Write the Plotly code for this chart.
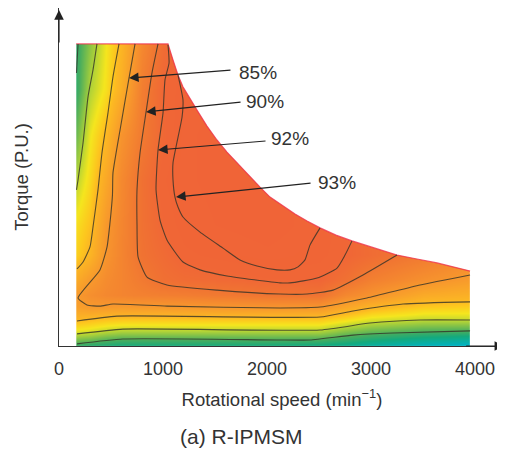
import plotly.graph_objects as go

# Efficiency map grid
speed = [165, 300, 450, 600, 800, 1000, 1200, 1500, 2000, 2500, 2750, 3000, 3500, 3950]
torque = [0, .02, .05, .09, .13, .17, .22, .30, .40, .55, .70, .85, 1.0]
eff_t000 = [69.0, 68.0, 67.5, 67.0, 67.0, 67.0, 67.0, 67.0, 67.0, 66.5, 65.5, 64.0, 62.0, 61.0]
eff_t002 = [72.0, 71.5, 70.5, 70.0, 70.0, 70.0, 70.0, 70.0, 70.0, 69.8, 68.8, 67.5, 65.5, 64.5]
eff_t005 = [76.5, 76.0, 75.0, 74.5, 74.5, 74.5, 74.5, 74.5, 74.5, 74.5, 72.7, 71.5, 70.3, 70.0]
eff_t009 = [80.5, 80.0, 79.5, 79.3, 79.3, 79.3, 79.3, 79.3, 79.2, 79.2, 77.8, 76.3, 75.3, 75.4]
eff_t013 = [83.5, 84.5, 84.5, 84.3, 84.5, 84.5, 84.6, 84.8, 85.2, 85.0, 82.7, 80.7, 78.9, 78.6]
eff_t017 = [84.5, 86.0, 87.0, 87.5, 88.0, 88.3, 88.5, 89.0, 89.7, 90.0, 87.0, 85.4, 82.1, 81.3]
eff_t022 = [82.0, 84.5, 86.5, 87.5, 89.0, 90.5, 91.0, 91.3, 91.8, 92.0, 90.3, 88.1, 85.8, 84.1]
eff_t030 = [78.5, 80.7, 85.3, 87.5, 90.1, 91.2, 92.3, 92.7, 93.3, 92.7, 92.0, 91.0, 89.0, 87.0]
eff_t040 = [77.5, 79.5, 84.7, 87.3, 90.3, 91.9, 92.9, 93.5, 94.0, 93.0, 92.0, 91.0, 89.0, 87.0]
eff_t055 = [74.8, 78.0, 82.5, 86.8, 90.4, 92.4, 93.3, 93.8, 94.0, 93.0, 92.0, 91.0, 89.0, 87.0]
eff_t070 = [71.5, 76.8, 80.3, 85.3, 89.0, 91.7, 93.3, 93.8, 93.5, 92.0, 91.0, 90.0, 88.0, 87.0]
eff_t085 = [69.0, 74.5, 77.5, 81.5, 88.5, 91.8, 93.0, 93.5, 93.5, 92.0, 91.0, 90.0, 88.0, 87.0]
eff_t100 = [69.0, 73.0, 77.0, 80.5, 87.0, 91.0, 93.0, 93.5, 93.5, 92.0, 91.0, 90.0, 88.0, 87.0]
eff = [eff_t000, eff_t002, eff_t005, eff_t009, eff_t013, eff_t017, eff_t022,
       eff_t030, eff_t040, eff_t055, eff_t070, eff_t085, eff_t100]

# Maximum torque envelope
env_speed = [165, 1048, 1096, 1144, 1192, 1260, 1327, 1423, 1519, 1615, 1711, 1837, 1933, 2029, 2154, 2269,
             2385, 2510, 2663, 2817, 3038, 3250, 3442, 3635, 3788, 3952]
env_torque = [1.0, 1.0, .947, .897, .858, .818, .781, .728, .682, .642, .606, .560, .526, .493, .464, .437,
              .414, .391, .367, .348, .324, .301, .288, .275, .262, .248]

# Iso-efficiency lines
iso_lines = [
    ([183, 168], [1.0, .904]),
    ([173, 615, 2096, 2413, 2827, 3211, 3952], [.007, .023, .020, .020, .036, .043, .050]),
    ([365, 327, 279, 231, 183, 168], [1.0, .914, .825, .672, .550, .517]),
    ([173, 615, 2510, 2990, 3471, 3952], [.040, .056, .053, .076, .086, .086]),
    ([577, 519, 471, 413, 375, 327, 298, 231, 173], [1.0, .891, .772, .639, .517, .394, .328, .278, .255]),
    ([173, 558, 2510, 2827, 3308, 3952], [.083, .099, .096, .116, .139, .146]),
    ([731, 673, 587, 519, 514, 490, 462, 394, 183, 269, 394, 519, 1038, 2125, 2510, 2961, 3471, 3952],
     [1.0, .887, .715, .573, .500, .407, .328, .252, .159, .136, .132, .139, .132, .126, .129, .159, .202, .235]),
    ([952, 894, 837, 779, 750, 750, 760, 846, 1038, 1519, 2125, 2385, 2635, 2923, 3250],
     [1.0, .904, .775, .639, .517, .401, .295, .228, .202, .185, .172, .172, .185, .235, .301]),
    ([1048, 1058, 1019, 1000, 952, 933, 971, 1038, 1192, 1356, 1615, 2125, 2221, 2481, 2673, 2750, 2817],
     [.997, .937, .881, .771, .649, .517, .417, .351, .278, .252, .232, .209, .209, .225, .258, .301, .348]),
    ([1144, 1192, 1183, 1096, 1096, 1115, 1144, 1192, 1356, 1577, 1740, 1904, 2096, 2221, 2298, 2365, 2413, 2510],
     [.897, .815, .758, .606, .550, .493, .460, .427, .377, .324, .285, .265, .252, .252, .262, .285, .334, .391]),
]

# Callouts: label, text position, arrow tail, arrow tip
callouts = [
    ("85%", (1913, .907), (1663, .914), (673, .887)),
    ("90%", (1981, .808), (1760, .808), (837, .775)),
    ("92%", (2221, .687), (2000, .679), (952, .649)),
    ("93%", (2673, .540), (2433, .540), (1125, .493)),
]
x_ticks = [0, 1000, 2000, 3000, 4000]

ZMIN, ZMAX = 60, 94
stops = [(60, "rgb(0,178,205)"), (62, "rgb(0,178,192)"), (67, "rgb(20,170,125)"), (70, "rgb(70,172,95)"),
         (75, "rgb(190,215,50)"), (77, "rgb(245,230,30)"), (79, "rgb(253,200,30)"), (80, "rgb(252,185,35)"),
         (85, "rgb(247,150,45)"), (90, "rgb(240,115,50)"), (92, "rgb(240,102,54)"), (94, "rgb(240,100,55)")]
colorscale = [[(v - ZMIN) / (ZMAX - ZMIN), c] for v, c in stops]

fig = go.Figure()
fig.add_trace(go.Contour(x=speed, y=torque, z=eff, zmin=ZMIN, zmax=ZMAX, colorscale=colorscale,
                         contours=dict(coloring="heatmap", showlines=False), line_width=0,
                         showscale=False, hoverinfo="skip"))
# White outside the envelope
fig.add_trace(go.Scatter(x=env_speed[1:] + [3960, 3960, 1048], y=env_torque[1:] + [.248, 1.02, 1.02], mode="lines",
                         fill="toself", fillcolor="white", line=dict(width=0), hoverinfo="skip", showlegend=False))
fig.add_trace(go.Scatter(x=env_speed, y=env_torque, mode="lines",
                         line=dict(color="rgba(238,50,75,0.8)", width=1.2), hoverinfo="skip", showlegend=False))
for xs, ys in iso_lines:
    fig.add_trace(go.Scatter(x=xs, y=ys, mode="lines",
                             line=dict(color="rgba(50,50,40,0.8)", width=1.1, shape="spline", smoothing=0.5),
                             hoverinfo="skip", showlegend=False))

ARROW = dict(text="", showarrow=True, arrowhead=2, arrowsize=1.6, arrowwidth=1.2, arrowcolor="#222")
ann = []
for label, tpos, tail, tip in callouts:
    ann.append(dict(x=tpos[0], y=tpos[1], text=label, showarrow=False, xref="x", yref="y",
                    font=dict(size=19, color="#333")))
    ann.append(dict(x=tip[0], y=tip[1], ax=tail[0], ay=tail[1], xref="x", yref="y", axref="x", ayref="y", **ARROW))
# Axis arrows
ann.append(dict(x=4280, y=0, ax=3900, ay=0, xref="x", yref="y", axref="x", ayref="y", **ARROW))
ann.append(dict(x=0, y=1.112, ax=0, ay=1.0, xref="x", yref="y", axref="x", ayref="y", **ARROW))
ann.append(dict(x=(241 - 59) / 446, y=(346 - 436) / 338, text="(a) R-IPMSM", showarrow=False, yanchor="middle",
                xref="paper", yref="paper", font=dict(size=21, color="#333")))

FONT = "Liberation Sans, Arial, sans-serif"
fig.update_layout(
    width=497, height=442, margin=dict(l=51, r=0, t=0, b=104), autosize=False,
    paper_bgcolor="white", plot_bgcolor="white", showlegend=False,
    font=dict(family=FONT, size=18, color="#333"),
    xaxis=dict(range=[0, 4288], tickvals=x_ticks, ticks="outside", ticklen=6, tickcolor="rgba(0,0,0,0)",
               showgrid=False, zeroline=False, showline=True, linecolor="#333", linewidth=1.2,
               tickfont=dict(size=18, color="#333"),
               title=dict(text="Rotational speed (min<sup>−1</sup>)", standoff=15, font=dict(size=18.5, color="#333"))),
    yaxis=dict(range=[0, 1.119], showticklabels=False, ticks="", showgrid=False, zeroline=False,
               showline=True, linecolor="#333", linewidth=1.2,
               title=dict(text="Torque (P.U.)", standoff=24, font=dict(size=18.5, color="#333"))),
    annotations=ann,
)
fig.write_html("out.html")
